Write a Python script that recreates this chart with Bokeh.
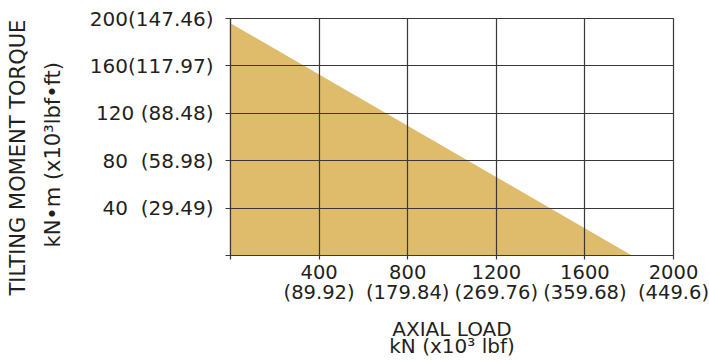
from bokeh.plotting import figure
from bokeh.models import Range1d, FixedTicker, Title
from bokeh.embed import file_html
from bokeh.resources import INLINE

# ---- data ----
axial_load_kn = [0, 1812]          # kN
tilting_moment_knm = [196, 0]      # kN·m

x_ticks = [0, 400, 800, 1200, 1600, 2000]
x_tick_labels = ["", "400\n(89.92)", "800\n(179.84)", "1200\n(269.76)", "1600\n(359.68)", "2000\n(449.6)"]
y_ticks = [0, 40, 80, 120, 160, 200]
y_tick_labels = ["", "40\u00a0\u00a0(29.49)", "80\u00a0\u00a0(58.98)", "120 (88.48)", "160(117.97)", "200(147.46)"]

x_title = "AXIAL LOAD\nkN (x10\u00b3 lbf)"
y_title_1 = "TILTING MOMENT TORQUE"
y_title_2 = "kN\u2022m (x10\u00b3lbf\u2022ft)"

FILL = "#DEBC6B"
INK = "#231f20"
GRID = "#383838"
FONT = "DejaVu Sans"

p = figure(frame_width=443, frame_height=237,
           x_range=Range1d(0, 2000), y_range=Range1d(0, 200),
           output_backend="svg", toolbar_location=None,
           min_border_left=230, min_border_right=36,
           min_border_top=18, min_border_bottom=107)
p.title.visible = False
p.background_fill_color = "white"
p.border_fill_color = "white"
p.outline_line_color = GRID
p.outline_line_width = 1.2

r = p.varea(x=axial_load_kn, y1=[0, 0], y2=tilting_moment_knm, fill_color=FILL)

for g in (p.xgrid, p.ygrid):
    g.level = "overlay"
    g.grid_line_color = GRID
    g.grid_line_width = 1.2
p.xgrid.ticker = FixedTicker(ticks=x_ticks)
p.ygrid.ticker = FixedTicker(ticks=y_ticks)

xa = p.xaxis[0]
xa.ticker = FixedTicker(ticks=x_ticks)
xa.major_label_overrides = {t: l for t, l in zip(x_ticks, x_tick_labels)}
xa.major_tick_in = 0
xa.major_tick_out = 4
xa.minor_tick_line_color = None
xa.major_label_standoff = 1
xa.major_label_text_font = FONT
xa.major_label_text_font_size = "19.5px"
xa.major_label_text_color = INK
xa.major_label_text_line_height = 0.89
xa.axis_label = x_title
xa.axis_label_text_font = FONT
xa.axis_label_text_font_size = "20px"
xa.axis_label_text_font_style = "normal"
xa.axis_label_text_color = INK
xa.axis_label_text_line_height = 0.73
xa.axis_label_standoff = 10
xa.axis_line_color = GRID
xa.axis_line_width = 1.2
xa.major_tick_line_color = GRID
xa.major_tick_line_width = 1.2

ya = p.yaxis[0]
ya.ticker = FixedTicker(ticks=y_ticks)
ya.major_label_overrides = {t: l for t, l in zip(y_ticks, y_tick_labels)}
ya.major_tick_in = 0
ya.major_tick_out = 5
ya.minor_tick_line_color = None
ya.major_label_standoff = 12
ya.major_label_text_font = FONT
ya.major_label_text_font_size = "20px"
ya.major_label_text_color = INK
ya.axis_line_color = GRID
ya.axis_line_width = 1.2
ya.major_tick_line_color = GRID
ya.major_tick_line_width = 1.2

# vertical axis title: two stacked side titles (text is centred in each panel);
# a thin blank panel keeps the gap between the second line and the tick labels
gap = Title(text=" ", standoff=5, text_font=FONT, text_font_size="8px", text_color=INK)
t2 = Title(text=y_title_2, align="left", offset=8, standoff=12,
           text_font=FONT, text_font_size="21px", text_font_style="normal", text_color=INK)
t1 = Title(text=y_title_1, align="left", offset=-40, standoff=5,
           text_font=FONT, text_font_size="21px", text_font_style="normal", text_color=INK)
p.add_layout(gap, "left")
p.add_layout(t2, "left")
p.add_layout(t1, "left")

open("out.html", "w").write(file_html(p, INLINE))
